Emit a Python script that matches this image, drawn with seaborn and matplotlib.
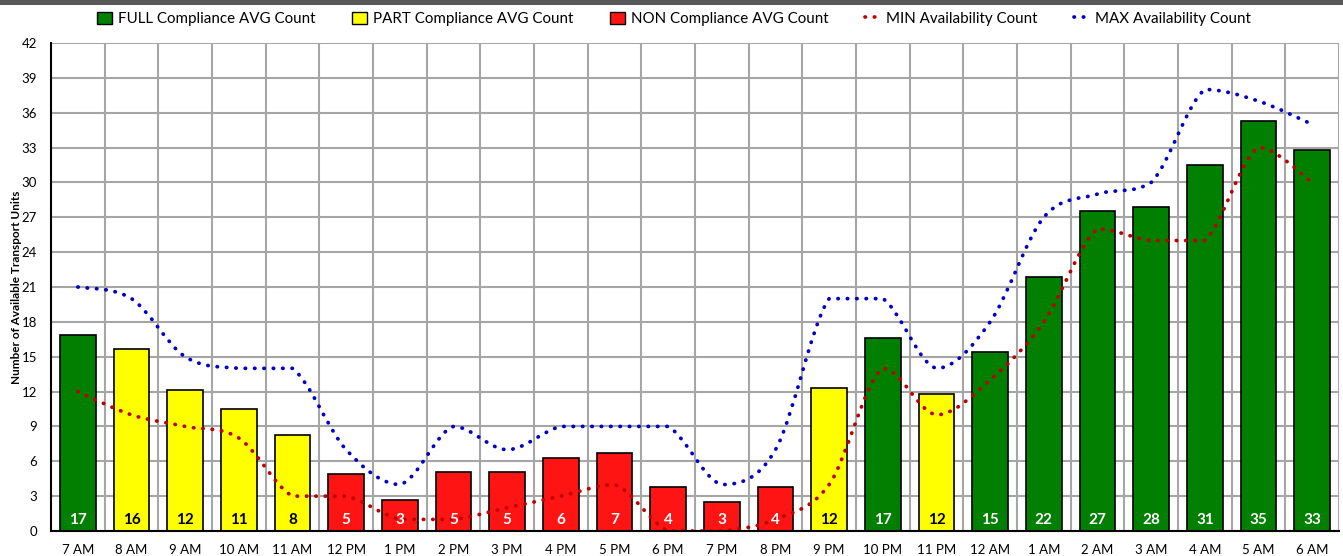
import matplotlib
matplotlib.use("Agg")
import matplotlib.pyplot as plt
from matplotlib.path import Path
from matplotlib.patches import PathPatch, Patch, Rectangle
from matplotlib.lines import Line2D
import seaborn as sns
import pandas as pd
import numpy as np

# Data
hours = ["7 AM", "8 AM", "9 AM", "10 AM", "11 AM", "12 PM", "1 PM", "2 PM", "3 PM",
         "4 PM", "5 PM", "6 PM", "7 PM", "8 PM", "9 PM", "10 PM", "11 PM", "12 AM",
         "1 AM", "2 AM", "3 AM", "4 AM", "5 AM", "6 AM"]
avg_count = [16.9, 15.7, 12.1, 10.5, 8.3, 4.9, 2.7, 5.1, 5.1, 6.3, 6.7, 3.8, 2.5, 3.8,
             12.3, 16.6, 11.8, 15.4, 21.9, 27.5, 27.9, 31.5, 35.3, 32.8]
bar_labels = [17, 16, 12, 11, 8, 5, 3, 5, 5, 6, 7, 4, 3, 4, 12, 17, 12, 15, 22, 27, 28,
              31, 35, 33]
compliance = ["FULL", "PART", "PART", "PART", "PART", "NON", "NON", "NON", "NON",
              "NON", "NON", "NON", "NON", "NON", "PART", "FULL", "PART", "FULL",
              "FULL", "FULL", "FULL", "FULL", "FULL", "FULL"]
min_avail = [12, 10, 9, 8, 3, 3, 1, 1, 2, 3, 4, 0, 0, 1, 4, 14, 10, 13, 18, 26, 25, 25, 33, 30]
max_avail = [21, 20, 15, 14, 14, 7, 4, 9, 7, 9, 9, 9, 4, 7, 20, 20, 14, 18, 27, 29, 30, 38, 37, 35]

colors = {"FULL": "#007F00", "PART": "#FFFF00", "NON": "#FF1414"}
label_colors = {"FULL": "white", "PART": "black", "NON": "white"}


def smooth_path(values):
    # smoothed line like the spreadsheet one: bezier segments through every point,
    # control points kept inside the segment's value range (no overshoot)
    pts = np.column_stack([np.arange(len(values)), np.asarray(values, dtype=float)])
    padded = np.vstack([pts[0], pts, pts[-1]])
    verts = [pts[0]]
    codes = [Path.MOVETO]
    for i in range(len(pts) - 1):
        p0, p1, p2, p3 = padded[i], padded[i + 1], padded[i + 2], padded[i + 3]
        c1 = p1 + (p2 - p0) / 6
        c2 = p2 - (p3 - p1) / 6
        lo, hi = min(p1[1], p2[1]), max(p1[1], p2[1])
        c1[1] = np.clip(c1[1], lo, hi)
        c2[1] = np.clip(c2[1], lo, hi)
        verts += [c1, c2, p2]
        codes += [Path.CURVE4] * 3
    return Path(verts, codes)


df = pd.DataFrame({"hour": hours, "count": avg_count, "level": compliance})

plt.rcParams["font.family"] = ["Lato", "DejaVu Sans"]
fig = plt.figure(figsize=(13.43, 5.56), dpi=100)
ax = fig.add_axes([51 / 1343, 1 - 531 / 556, (1339 - 51) / 1343, (531 - 43) / 556])

sns.barplot(data=df, x="hour", y="count", hue="level", palette=colors, dodge=False,
            saturation=1, width=0.67, edgecolor="black", linewidth=1.2, legend=False,
            ax=ax, zorder=3)

dot_style = (0, (0.1, 2.4))
for vals, col in [(min_avail, "#C00000"), (max_avail, "#0000CC")]:
    patch = PathPatch(smooth_path(vals), fill=False, edgecolor=col, linewidth=2.7,
                      linestyle=dot_style, capstyle="round", zorder=4)
    ax.add_patch(patch)

for i, (v, lvl) in enumerate(zip(bar_labels, compliance)):
    ax.text(i, 0.95, str(v), ha="center", va="center", fontsize=11,
            fontweight="bold", color=label_colors[lvl], zorder=5)

ax.set_xlim(-0.5, len(hours) - 0.5)
ax.set_ylim(0, 42)
ax.set_yticks(range(0, 43, 3))
ax.set_xticks(range(len(hours)))
ax.set_xticklabels(hours)
ax.set_xticks(np.arange(0.5, len(hours), 1), minor=True)
ax.grid(False)
ax.yaxis.grid(True, color="#A6A6A6", linewidth=1.5, zorder=0)
ax.xaxis.grid(True, which="minor", color="#A6A6A6", linewidth=1.5, zorder=0)
ax.set_axisbelow(True)
ax.tick_params(axis="both", which="both", length=0, labelsize=9.5)
ax.tick_params(axis="x", pad=9)
ax.tick_params(axis="y", pad=10)
ax.set_xlabel("")
ax.set_ylabel("Number of Available Transport Units", fontsize=8.5, fontweight="bold",
              labelpad=0)
for s in ["top", "right"]:
    ax.spines[s].set_visible(False)
for s in ["left", "bottom"]:
    ax.spines[s].set_color("black")
    ax.spines[s].set_linewidth(1.5)
    ax.spines[s].set_zorder(6)

handles = [
    Patch(facecolor=colors["FULL"], edgecolor="black", label="FULL Compliance AVG Count"),
    Patch(facecolor=colors["PART"], edgecolor="black", label="PART Compliance AVG Count"),
    Patch(facecolor=colors["NON"], edgecolor="black", label="NON Compliance AVG Count"),
    Line2D([], [], color="#C00000", linewidth=2.7, linestyle=dot_style,
           dash_capstyle="round", label="MIN Availability Count"),
    Line2D([], [], color="#0000CC", linewidth=2.7, linestyle=dot_style,
           dash_capstyle="round", label="MAX Availability Count"),
]
fig.legend(handles=handles, loc="center", bbox_to_anchor=(0.502, 1 - 19 / 556), ncol=5,
           frameon=False, fontsize=10.9, handlelength=1.0, handleheight=0.8,
           handletextpad=0.4, columnspacing=2.4)

fig.patches.append(Rectangle((0, 1 - 5 / 556), 1, 5 / 556, transform=fig.transFigure,
                             facecolor="#595959", edgecolor="none"))

plt.savefig("out.png", dpi=100)
